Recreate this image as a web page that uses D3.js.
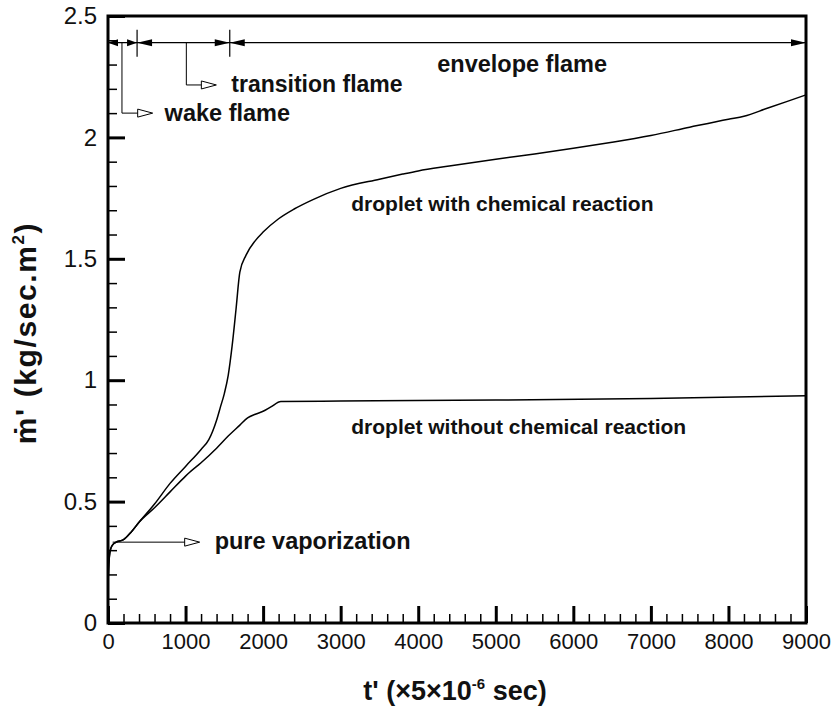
<!DOCTYPE html>
<html>
<head>
<meta charset="utf-8">
<script src="https://cdn.jsdelivr.net/npm/d3@7"></script>
<style>
  html, body { margin: 0; padding: 0; background: #fff; }
  svg { display: block; font-family: "Liberation Sans", Arial, Helvetica, sans-serif; }
</style>
</head>
<body>
<svg id="chart" width="838" height="712"></svg>
<script>
// Evaporation rate of a burning droplet versus non-dimensional time
const timeWith = [0, 10, 30, 60, 100, 200, 300, 400, 600, 800, 1000, 1200, 1300, 1400, 1450, 1500, 1550, 1600, 1650, 1700, 1780, 1900, 2000, 2200, 2400, 2650, 3000, 3500, 3800, 4000, 4400, 5000, 5500, 6000, 6500, 7000, 7500, 8000, 8200, 8500, 9000];
const mdotWith = [0.16, 0.24, 0.30, 0.322, 0.332, 0.343, 0.375, 0.415, 0.49, 0.575, 0.645, 0.715, 0.755, 0.835, 0.89, 0.945, 1.02, 1.14, 1.29, 1.445, 1.515, 1.575, 1.61, 1.665, 1.705, 1.745, 1.79, 1.828, 1.849, 1.862, 1.882, 1.91, 1.932, 1.955, 1.98, 2.008, 2.042, 2.075, 2.087, 2.12, 2.175];

const timeWithout = [0, 10, 30, 60, 100, 200, 300, 400, 600, 800, 1000, 1050, 1200, 1400, 1550, 1700, 1800, 1900, 2000, 2100, 2230, 3000, 5000, 7000, 9000];
const mdotWithout = [0.16, 0.24, 0.30, 0.322, 0.332, 0.343, 0.375, 0.415, 0.475, 0.54, 0.605, 0.62, 0.66, 0.72, 0.77, 0.815, 0.845, 0.86, 0.872, 0.89, 0.912, 0.914, 0.918, 0.925, 0.936];

// Flame regimes along the time axis
const phaseBounds = [0, 375, 1570, 9000];
const phaseNames = ["wake flame", "transition flame", "envelope flame"];

// Tick values
const xMajor = [0, 1000, 2000, 3000, 4000, 5000, 6000, 7000, 8000, 9000];
const xMinor = d3.range(0, 9001, 200).filter(v => v % 1000 !== 0);
const yMajor = [0, 0.5, 1, 1.5, 2, 2.5];
const yMinor = d3.range(0, 25).map(i => i / 10).filter((v, i) => i % 5 !== 0);
const yTickLabels = ["0", "0.5", "1", "1.5", "2", "2.5"];

const W = 838, H = 712;
const margin = { left: 108, right: 32, top: 16, bottom: 89 };
const x = d3.scaleLinear().domain([0, 9000]).range([margin.left, W - margin.right]);
const y = d3.scaleLinear().domain([0, 2.5]).range([H - margin.bottom, margin.top]);

const svg = d3.select("#chart");

// Axes with inward ticks
const xAxisMajor = d3.axisBottom(x).tickValues(xMajor).tickSize(-17).tickPadding(10).tickFormat(d3.format("d"));
const xAxisMinor = d3.axisBottom(x).tickValues(xMinor).tickSize(-9).tickFormat("");
const yAxisMajor = d3.axisLeft(y).tickValues(yMajor).tickSize(-17).tickPadding(11)
  .tickFormat((d, i) => yTickLabels[i]);
const yAxisMinor = d3.axisLeft(y).tickValues(yMinor).tickSize(-9).tickFormat("");

function styleAxis(g, w, fs) {
  g.select(".domain").remove();
  g.selectAll(".tick line").attr("stroke", "#000").attr("stroke-width", w);
  g.selectAll(".tick text").attr("fill", "#111").style("font-size", fs).style("font-family", "'Liberation Sans', Arial, sans-serif");
}

svg.append("g").attr("transform", `translate(0,${y(0)})`).call(xAxisMinor).call(g => styleAxis(g, 1.5, "22px"));
svg.append("g").attr("transform", `translate(0,${y(0)})`).call(xAxisMajor).call(g => styleAxis(g, 3, "22px"));
svg.append("g").attr("transform", `translate(${x(0)},0)`).call(yAxisMinor).call(g => styleAxis(g, 1.5, "24px"));
svg.append("g").attr("transform", `translate(${x(0)},0)`).call(yAxisMajor).call(g => styleAxis(g, 3, "24px"));

// Plot frame
svg.append("rect")
  .attr("x", x(0)).attr("y", y(2.5))
  .attr("width", x(9000) - x(0)).attr("height", y(0) - y(2.5))
  .attr("fill", "none").attr("stroke", "#000").attr("stroke-width", 3);

// Curves
const line = d3.line().x(d => x(d[0])).y(d => y(d[1])).curve(d3.curveMonotoneX);
svg.append("path")
  .datum(timeWith.map((t, i) => [t, mdotWith[i]]))
  .attr("d", line).attr("fill", "none").attr("stroke", "#000").attr("stroke-width", 1.5);
svg.append("path")
  .datum(timeWithout.map((t, i) => [t, mdotWithout[i]]))
  .attr("d", line).attr("fill", "none").attr("stroke", "#000").attr("stroke-width", 1.5);

// Arrow helpers
function solidHead(px, py, dir, len, half) {
  svg.append("path")
    .attr("d", `M${px},${py}L${px - dir * len},${py - half}L${px - dir * len},${py + half}Z`)
    .attr("fill", "#000");
}
function openHead(px, py, len, half) {
  svg.append("path")
    .attr("d", `M${px},${py}L${px - len},${py - half}L${px - len},${py + half}Z`)
    .attr("fill", "#fff").attr("stroke", "#000").attr("stroke-width", 1);
}
function seg(x1, y1, x2, y2, w) {
  svg.append("line").attr("x1", x1).attr("y1", y1).attr("x2", x2).attr("y2", y2)
    .attr("stroke", "#000").attr("stroke-width", w || 1);
}

// Regime bracket along the top
const bracketY = y(2.39);
seg(x(phaseBounds[0]), bracketY, x(phaseBounds[3]), bracketY, 1.2);
[phaseBounds[1], phaseBounds[2]].forEach(b => seg(x(b), bracketY - 13, x(b), bracketY + 14, 1.2));
solidHead(x(phaseBounds[0]), bracketY, -1, 10, 3.5);
solidHead(x(phaseBounds[1]), bracketY, 1, 10, 3.5);
solidHead(x(phaseBounds[1]), bracketY, -1, 15, 3.5);
solidHead(x(phaseBounds[2]), bracketY, 1, 15, 3.5);
solidHead(x(phaseBounds[2]), bracketY, -1, 15, 3.5);
solidHead(x(phaseBounds[3]), bracketY, 1, 15, 3.5);

function label(txt, px, py, fs) {
  svg.append("text").attr("x", px).attr("y", py).text(txt)
    .style("font-size", fs).style("font-weight", "bold").attr("fill", "#111");
}

// Wake flame leader
const wakeX = x(180), wakeY = y(2.10);
seg(wakeX, bracketY, wakeX, wakeY);
seg(wakeX, wakeY, x(576) - 14, wakeY);
openHead(x(576), wakeY, 15, 4);
label(phaseNames[0], x(730), wakeY + 8, "23.5px");

// Transition flame leader
const transX = x(1010), transY = y(2.216);
seg(transX, bracketY, transX, transY);
seg(transX, transY, x(1397) - 14, transY);
openHead(x(1397), transY, 15, 4);
label(phaseNames[1], x(1590), transY + 7, "23px");

// Envelope flame label
label(phaseNames[2], x(4245), y(2.39) + 29, "23.5px");

// Pure vaporization arrow
const pvY = y(0.333);
seg(x(60), pvY, x(1182) - 14, pvY);
openHead(x(1182), pvY, 15, 4);
label("pure vaporization", x(1375), pvY + 7, "23.5px");

// Curve labels
label("droplet with chemical reaction", x(3137), y(1.696), "21px");
label("droplet without chemical reaction", x(3137), y(0.78), "21px");

// Axis titles
const xt = svg.append("text").attr("x", 455).attr("y", 700)
  .attr("text-anchor", "middle").style("font-size", "27px").style("font-weight", "bold").attr("fill", "#111");
xt.append("tspan").text("t' (×5×10");
xt.append("tspan").attr("dy", -11).style("font-size", "15px").text("-6");
xt.append("tspan").attr("dy", 11).text(" sec)");

const yt = svg.append("text")
  .attr("transform", `translate(36,333) rotate(-90)`)
  .attr("text-anchor", "middle").style("font-size", "30px").style("font-weight", "bold")
  .style("letter-spacing", "1.6px").attr("fill", "#111");
yt.append("tspan").text("ṁ' (kg/sec.m");
yt.append("tspan").attr("dy", -12).style("font-size", "17px").text("2");
yt.append("tspan").attr("dy", 12).text(")");
</script>
</body>
</html>
